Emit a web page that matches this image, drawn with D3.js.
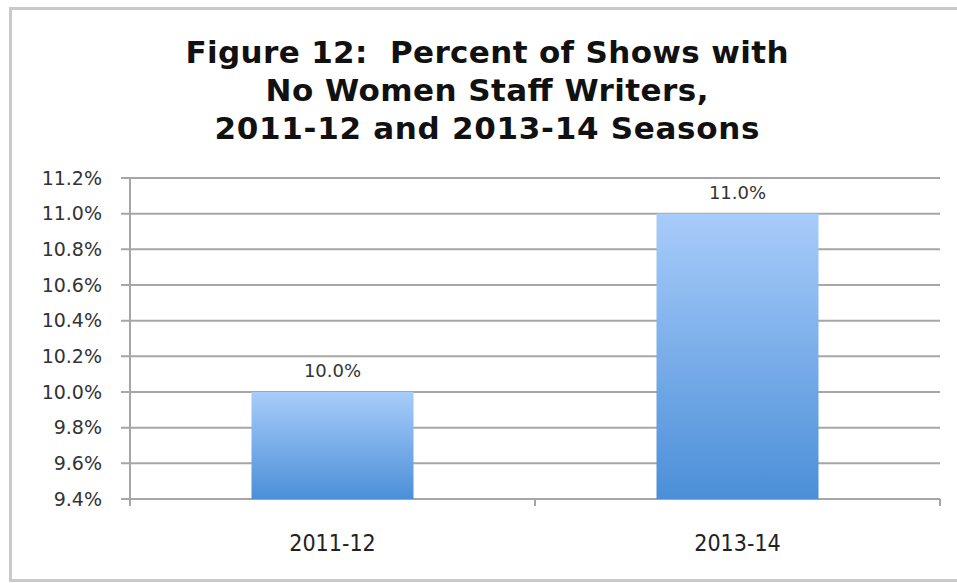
<!DOCTYPE html>
<html>
<head>
<meta charset="utf-8">
<script src="https://cdn.jsdelivr.net/npm/d3@7"></script>
<style>
  body { margin: 0; background: #fff; }
  svg { display: block; }
</style>
</head>
<body>
<svg id="chart"></svg>
<script>
// Data
const seasons = ["2011-12", "2013-14"];
const percents = [10.0, 11.0];
const yTicks = [9.4, 9.6, 9.8, 10.0, 10.2, 10.4, 10.6, 10.8, 11.0, 11.2];
const titleLines = ["Figure 12:  Percent of Shows with", "No Women Staff Writers,", "2011-12 and 2013-14 Seasons"];

// Sizes
const width = 957;
const height = 583;
const marginTop = 178;
const marginRight = 17;
const marginBottom = 84;
const marginLeft = 130;

const svg = d3.select("#chart")
    .attr("width", width)
    .attr("height", height)
    .attr("viewBox", [0, 0, width, height]);

// outer frame
svg.append("rect")
    .attr("x", 10.5)
    .attr("y", 8.5)
    .attr("width", width)
    .attr("height", 572)
    .attr("fill", "#fff")
    .attr("stroke", "#c9c9c9")
    .attr("stroke-width", 3);

// gradient for the bars
const grad = svg.append("defs").append("linearGradient")
    .attr("id", "barGrad")
    .attr("x1", 0).attr("y1", 0).attr("x2", 0).attr("y2", 1);
grad.append("stop").attr("offset", "0%").attr("stop-color", "#a8ccfa");
grad.append("stop").attr("offset", "100%").attr("stop-color", "#4b8fd8");

// Scales
const x = d3.scaleBand()
    .domain(seasons)
    .range([marginLeft, width - marginRight])
    .paddingInner(0.6)
    .paddingOuter(0.3);

const y = d3.scaleLinear()
    .domain([9.4, 11.2])
    .range([height - marginBottom, marginTop]);

// Title
const titleWidths = [603, 443, 545];
svg.append("g")
    .selectAll("text")
    .data(titleLines)
    .join("text")
    .attr("x", 487)
    .attr("y", (d, i) => 63 + i * 38)
    .attr("text-anchor", "middle")
    .attr("font-family", "DejaVu Sans")
    .attr("font-weight", "bold")
    .attr("font-size", 31)
    .attr("fill", "#111")
    .style("white-space", "pre")
    .attr("textLength", (d, i) => titleWidths[i])
    .attr("lengthAdjust", "spacing")
    .text(d => d);

// Gridlines
svg.append("g")
    .attr("stroke", "#a6a6a6")
    .attr("stroke-width", 2)
    .selectAll("line")
    .data(yTicks)
    .join("line")
    .attr("x1", marginLeft - 9)
    .attr("x2", width - marginRight)
    .attr("y1", d => y(d))
    .attr("y2", d => y(d));

// Bars
svg.append("g")
    .selectAll("rect")
    .data(seasons)
    .join("rect")
    .attr("x", d => x(d))
    .attr("width", x.bandwidth())
    .attr("y", (d, i) => y(percents[i]))
    .attr("height", (d, i) => y(9.4) - y(percents[i]))
    .attr("fill", "url(#barGrad)");

// Value labels
svg.append("g")
    .selectAll("text")
    .data(seasons)
    .join("text")
    .attr("x", d => x(d) + x.bandwidth() / 2)
    .attr("y", (d, i) => y(percents[i]) - 15)
    .attr("text-anchor", "middle")
    .attr("font-family", "DejaVu Sans")
    .attr("font-size", 18)
    .attr("fill", "#333")
    .text((d, i) => percents[i].toFixed(1) + "%");

// y-axis
const yAxis = svg.append("g")
    .attr("transform", `translate(${marginLeft},0)`)
    .call(d3.axisLeft(y).tickValues(yTicks).tickSize(0).tickPadding(28)
        .tickFormat(d => d.toFixed(1) + "%"));
yAxis.select(".domain")
    .attr("stroke", "#a6a6a6")
    .attr("stroke-width", 2)
    .attr("d", `M0,${y(11.2)}V${y(9.4) + 7}`);
yAxis.selectAll("text")
    .attr("font-family", "DejaVu Sans")
    .attr("font-size", 19)
    .attr("fill", "#333");

// x-axis (category boundaries as ticks)
const xAxis = svg.append("g")
    .attr("transform", `translate(0,${y(9.4)})`)
    .call(d3.axisBottom(x).tickSize(0).tickPadding(36));
xAxis.select(".domain").remove();
xAxis.selectAll("text")
    .attr("font-family", "Liberation Sans Narrow, DejaVu Sans Condensed, DejaVu Sans")
    .attr("font-size", 23)
    .attr("fill", "#222");

svg.append("g")
    .attr("stroke", "#a6a6a6")
    .attr("stroke-width", 2)
    .selectAll("line")
    .data([(x(seasons[0]) + x.bandwidth() + x(seasons[1])) / 2, width - marginRight])
    .join("line")
    .attr("x1", d => d).attr("x2", d => d)
    .attr("y1", y(9.4)).attr("y2", y(9.4) + 7);
</script>
</body>
</html>
